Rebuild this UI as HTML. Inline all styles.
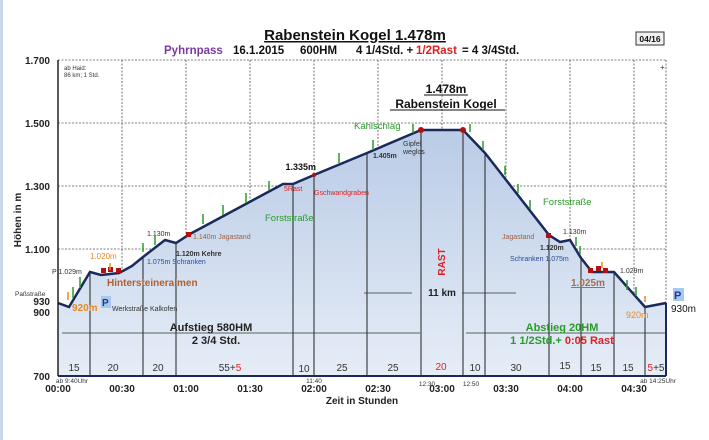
<!DOCTYPE html>
<html><head><meta charset="utf-8"><style>
html,body{margin:0;padding:0;background:#fff;}
body{width:709px;height:440px;overflow:hidden;}
svg{display:block;font-family:"Liberation Sans",Arial,sans-serif;}
</style></head><body>
<svg width="709" height="440" viewBox="0 0 709 440" xmlns="http://www.w3.org/2000/svg">
<defs>
<linearGradient id="g" x1="0" y1="0" x2="0" y2="1">
<stop offset="0" stop-color="#b9cbe6"/><stop offset="1" stop-color="#e6edf7"/>
</linearGradient>
</defs>
<rect x="0" y="0" width="3" height="440" fill="#c8d8e8"/>
<g stroke="#555" stroke-width="0.8" stroke-dasharray="2,1.5" fill="none">
<line x1="58" y1="60" x2="666" y2="60"/>
<line x1="58" y1="123" x2="666" y2="123"/>
<line x1="58" y1="186" x2="666" y2="186"/>
<line x1="58" y1="249" x2="666" y2="249"/>
<line x1="122" y1="60" x2="122" y2="376"/><line x1="186" y1="60" x2="186" y2="376"/>
<line x1="250" y1="60" x2="250" y2="376"/><line x1="314" y1="60" x2="314" y2="376"/>
<line x1="378" y1="60" x2="378" y2="376"/><line x1="442" y1="60" x2="442" y2="376"/>
<line x1="506" y1="60" x2="506" y2="376"/><line x1="570" y1="60" x2="570" y2="376"/>
<line x1="634" y1="60" x2="634" y2="376"/><line x1="666" y1="60" x2="666" y2="376"/>
</g>
<polygon fill="url(#g)" points="58,303 69,307 90,272 101,275 119,273 132,266 143,257 165,240 176,243 190,234 283,184 293,184 314,175 367,153 421,130 463,130 485,153 549,235 560,242 570,240 581,258 592,272 614,272 645,307 666,303 666,376 58,376"/>
<g stroke="#222" stroke-width="1">
<line x1="90" y1="272" x2="90" y2="376"/><line x1="143" y1="257" x2="143" y2="376"/>
<line x1="176" y1="243" x2="176" y2="376"/><line x1="293" y1="184" x2="293" y2="376"/>
<line x1="314" y1="175" x2="314" y2="376"/><line x1="367" y1="153" x2="367" y2="376"/>
<line x1="421" y1="130" x2="421" y2="376"/><line x1="463" y1="130" x2="463" y2="376"/>
<line x1="485" y1="153" x2="485" y2="376"/><line x1="549" y1="235" x2="549" y2="376"/>
<line x1="581" y1="258" x2="581" y2="376"/><line x1="614" y1="272" x2="614" y2="376"/>
<line x1="645" y1="307" x2="645" y2="376"/>
</g>
<polyline fill="none" stroke="#1a2a5a" stroke-width="2.5" points="58,303 69,307 90,272 101,275 119,273 132,266 143,257 165,240 176,243 190,234 283,184 293,184 314,175 367,153 421,130 463,130 485,153 549,235 560,242 570,240 581,258 592,272 614,272 645,307 666,303"/>
<line x1="58" y1="60" x2="58" y2="376" stroke="#222" stroke-width="1.5"/>
<line x1="58" y1="376" x2="666" y2="376" stroke="#1a2a5a" stroke-width="2"/>
<line x1="666" y1="303" x2="666" y2="376" stroke="#1a2a5a" stroke-width="2"/>
<g fill="#b01010">
<rect x="101" y="268" width="5" height="5"/><rect x="108" y="267" width="5" height="5"/><rect x="116" y="268" width="5" height="5"/>
<rect x="186" y="232" width="5" height="5"/><rect x="546" y="233" width="5" height="5"/>
<rect x="588" y="268" width="5" height="5"/><rect x="596" y="266" width="5" height="5"/><rect x="603" y="268" width="5" height="5"/>
<circle cx="421" cy="130" r="3"/><circle cx="463" cy="130" r="3"/><circle cx="314" cy="175" r="2"/>
</g>
<g stroke="#2a9a2a" stroke-width="1.5">
<line x1="73" y1="298" x2="73" y2="287"/><line x1="80" y1="288" x2="80" y2="277"/>
<line x1="143" y1="252" x2="143" y2="243"/><line x1="155" y1="245" x2="155" y2="236"/>
<line x1="203" y1="224" x2="203" y2="214"/><line x1="223" y1="215" x2="223" y2="205"/>
<line x1="246" y1="203" x2="246" y2="193"/><line x1="269" y1="190" x2="269" y2="181"/>
<line x1="339" y1="163" x2="339" y2="153"/><line x1="373" y1="150" x2="373" y2="140"/>
<line x1="413" y1="133" x2="413" y2="124"/><line x1="470" y1="132" x2="470" y2="124"/>
<line x1="483" y1="150" x2="483" y2="141"/><line x1="505" y1="175" x2="505" y2="166"/>
<line x1="518" y1="193" x2="518" y2="184"/><line x1="530" y1="209" x2="530" y2="200"/>
<line x1="576" y1="246" x2="576" y2="237"/><line x1="580" y1="254" x2="580" y2="246"/>
<line x1="627" y1="290" x2="627" y2="280"/><line x1="636" y1="296" x2="636" y2="287"/>
</g>
<g stroke="#e88a20" stroke-width="1.5"><line x1="68" y1="300" x2="68" y2="292"/><line x1="110" y1="270" x2="110" y2="263"/><line x1="602" y1="268" x2="602" y2="262"/><line x1="645" y1="302" x2="645" y2="296"/></g>
<g font-size="10" font-weight="bold" fill="#222" text-anchor="end">
<text x="50" y="64">1.700</text><text x="50" y="127">1.500</text><text x="50" y="190">1.300</text>
<text x="50" y="253">1.100</text><text x="50" y="305">930</text><text x="50" y="316">900</text><text x="50" y="380">700</text>
</g>
<text x="21" y="220" font-size="10" font-weight="bold" fill="#222" transform="rotate(-90 21 220)" text-anchor="middle">Höhen in m</text>
<text x="15" y="296" font-size="6.5" fill="#333">Paßstraße</text>
<g font-size="10" font-weight="bold" fill="#222" text-anchor="middle">
<text x="58" y="392">00:00</text><text x="122" y="392">00:30</text><text x="186" y="392">01:00</text>
<text x="250" y="392">01:30</text><text x="314" y="392">02:00</text><text x="378" y="392">02:30</text>
<text x="442" y="392">03:00</text><text x="506" y="392">03:30</text><text x="570" y="392">04:00</text>
<text x="634" y="392">04:30</text><text x="362" y="404">Zeit in Stunden</text>
</g>
<g font-size="6.5" fill="#333" text-anchor="middle">
<text x="72" y="383">ab 9:40Uhr</text><text x="314" y="383">11:40</text><text x="427" y="386">12:30</text><text x="471" y="386">12:50</text><text x="658" y="383">ab 14:25Uhr</text>
</g>
<g font-size="10" fill="#333" text-anchor="middle">
<text x="74" y="371">15</text><text x="113" y="371">20</text><text x="158" y="371">20</text>
<text x="230" y="371">55+<tspan fill="#e02020">5</tspan></text><text x="304" y="372">10</text><text x="342" y="371">25</text>
<text x="393" y="371">25</text><text x="441" y="370" fill="#e02020">20</text><text x="475" y="371">10</text>
<text x="516" y="371">30</text><text x="565" y="369">15</text><text x="596" y="371">15</text><text x="628" y="371">15</text>
<text x="656" y="371"><tspan fill="#e02020">5</tspan>+5</text>
</g>
<g stroke="#333" stroke-width="0.8">
<line x1="62" y1="333" x2="420" y2="333"/><line x1="466" y1="333" x2="665" y2="333"/>
<line x1="364" y1="293" x2="412" y2="293"/><line x1="462" y1="293" x2="516" y2="293"/>
</g>
<text x="211" y="331" font-size="11" font-weight="bold" fill="#222" text-anchor="middle">Aufstieg 580HM</text>
<text x="216" y="344" font-size="11" font-weight="bold" fill="#222" text-anchor="middle">2 3/4 Std.</text>
<text x="562" y="331" font-size="11" font-weight="bold" fill="#2a9a2a" text-anchor="middle">Abstieg 20HM</text>
<text x="562" y="344" font-size="11" font-weight="bold" fill="#2a9a2a" text-anchor="middle">1 1/2Std.+ <tspan fill="#e02020">0:05 Rast</tspan></text>
<text x="442" y="296" font-size="10" font-weight="bold" fill="#222" text-anchor="middle">11 km</text>
<text x="445" y="262" font-size="10" font-weight="bold" fill="#e02020" text-anchor="middle" transform="rotate(-90 445 262)">RAST</text>
<text x="355" y="40" font-size="15" font-weight="bold" fill="#111" text-anchor="middle" text-decoration="underline">Rabenstein Kogel 1.478m</text>
<g font-size="11.5" font-weight="bold" fill="#111">
<text x="164" y="54" fill="#7a3aa0">Pyhrnpass</text>
<text x="233" y="54">16.1.2015</text>
<text x="300" y="54">600HM</text>
<text x="356" y="54">4 1/4Std. +</text>
<text x="416" y="54" fill="#e02020">1/2Rast</text>
<text x="462" y="54">= 4 3/4Std.</text>
</g>
<rect x="636" y="32" width="28" height="13" fill="#f0f0f0" stroke="#333"/>
<text x="650" y="42" font-size="8.5" font-weight="bold" fill="#111" text-anchor="middle">04/16</text>
<text x="446" y="93" font-size="12" font-weight="bold" fill="#111" text-anchor="middle">1.478m</text>
<line x1="424" y1="95" x2="468" y2="95" stroke="#111"/>
<text x="446" y="108" font-size="12" font-weight="bold" fill="#111" text-anchor="middle">Rabenstein Kogel</text>
<line x1="390" y1="110" x2="505" y2="110" stroke="#111"/>
<text x="64" y="70" font-size="6" fill="#333">ab Haid:</text><text x="64" y="77" font-size="6" fill="#333">86 km; 1 Std.</text>
<g font-size="7" fill="#333">
<text x="52" y="274">P 1.029m</text>
<text x="147" y="236">1.130m</text><text x="176" y="256" font-weight="bold">1.120m Kehre</text>
<text x="147" y="264" fill="#2a4a9a">1.075m Schranken</text>
<text x="193" y="239" fill="#a06040">1.140m Jagastand</text>
<text x="112" y="311">Werkstraße Kalkofen</text>
<text x="403" y="146">Gipfel</text><text x="403" y="154">weglos</text>
<text x="373" y="158" font-weight="bold">1.405m</text>
<text x="284" y="191" fill="#e02020">5Rast</text><text x="314" y="195" fill="#e02020">Gschwandgraben</text>
<text x="502" y="239" fill="#a06040">Jagastand</text><text x="540" y="250" font-weight="bold">1.120m</text>
<text x="563" y="234">1.130m</text><text x="510" y="261" fill="#2a4a9a">Schranken 1.075m</text>
<text x="620" y="273">1.029m</text>
</g>
<text x="90" y="259" font-size="8" fill="#e88a20">1.020m</text>
<text x="107" y="286" font-size="10" fill="#b06030" font-weight="bold">Hintersteineralmen</text>
<text x="72" y="311" font-size="10" fill="#e88a20" font-weight="bold">920m</text>
<text x="626" y="318" font-size="9" fill="#e88a20">920m</text>
<text x="571" y="286" font-size="10" fill="#a07050" font-weight="bold" text-decoration="underline">1.025m</text>
<text x="316" y="170" font-size="9" font-weight="bold" fill="#111" text-anchor="end">1.335m</text>
<text x="265" y="221" font-size="9.5" fill="#2a9a2a">Forststraße</text>
<text x="354" y="129" font-size="9.5" fill="#2a9a2a">Kahlschlag</text>
<text x="543" y="205" font-size="9.5" fill="#2a9a2a">Forststraße</text>
<rect x="101" y="296" width="10" height="12" fill="#a8c8f0"/><text x="102" y="306" font-size="10" font-weight="bold" fill="#1a3a8a">P</text>
<rect x="673" y="288" width="11" height="13" fill="#a8c8f0"/><text x="674" y="299" font-size="11" font-weight="bold" fill="#1a3a8a">P</text>
<text x="671" y="312" font-size="10" fill="#111">930m</text>
<text x="660" y="70" font-size="8" fill="#333">+</text>
</svg>
</body></html>
